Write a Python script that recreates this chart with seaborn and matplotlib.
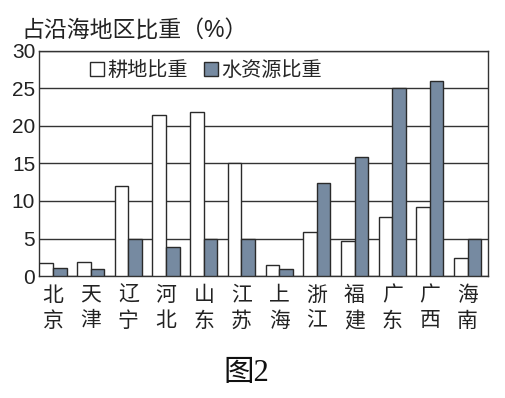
import matplotlib
matplotlib.use('Agg')
import matplotlib.pyplot as plt
import pandas as pd
import seaborn as sns

# provinces (two-line labels), cultivated land share and water resources share (%)
provinces = ['北京', '天津', '辽宁', '河北', '山东', '江苏', '上海', '浙江', '福建', '广东', '广西', '海南']
farmland = [1.7, 1.9, 12.0, 21.5, 21.9, 15.0, 1.5, 5.8, 4.7, 7.8, 9.2, 2.4]
water = [1.1, 1.0, 5.0, 3.9, 5.0, 5.0, 1.0, 12.4, 15.9, 25.0, 26.0, 5.0]
series = ['耕地比重', '水资源比重']
yticks = [0, 5, 10, 15, 20, 25, 30]

sns.set_style('white')
plt.rcParams['font.family'] = ['Liberation Sans', 'Noto Sans CJK SC', 'DejaVu Sans']

df = pd.DataFrame({
    'province': provinces * 2,
    'value': farmland + water,
    'kind': [series[0]] * len(provinces) + [series[1]] * len(provinces),
})

fig = plt.figure(figsize=(5.05, 3.98), dpi=100)
ax = fig.add_axes([0.078, 0.3065, 0.889, 0.5655])

blue = '#6f8aa8'
sns.barplot(data=df, x='province', y='value', hue='kind', order=provinces,
            hue_order=series, palette={series[0]: 'white', series[1]: blue},
            width=0.72, edgecolor='#2a2a2a', linewidth=1.0, ax=ax, zorder=3)

ax.set_ylim(0, 30)
ax.set_xlim(-0.36, 11.55)
ax.set_yticks(yticks)
ax.set_yticklabels([str(t) for t in yticks], fontsize=15, color='#222222')
ax.yaxis.grid(True, color='#333333', linewidth=1.0, zorder=0)
ax.set_axisbelow(True)
ax.tick_params(axis='y', length=0, pad=3)

# category labels stacked vertically
ax.set_xticks(range(len(provinces)))
ax.set_xticklabels([p[0] + '\n' + p[1] for p in provinces], fontsize=15,
                   linespacing=1.4, color='#222222')
ax.tick_params(axis='x', which='major', length=0, pad=7)
ax.set_xticks([k + 0.64 for k in range(len(provinces) - 1)], minor=True)
ax.tick_params(axis='x', which='minor', direction='in', length=5, width=1, color='#333333')

for s in ax.spines.values():
    s.set_visible(True)
    s.set_color('#333333')
    s.set_linewidth(1.0)

ax.set_xlabel('')
ax.set_ylabel('')

handles, labels = ax.get_legend_handles_labels()
ax.get_legend().remove()
fig.legend(handles, labels, loc='center left', bbox_to_anchor=(0.163, 0.822),
           ncol=2, frameon=False, fontsize=14.5, handlelength=0.7, handleheight=0.7,
           handletextpad=0.15, columnspacing=0.8, borderaxespad=0)

fig.text(0.042, 0.922, '占沿海地区比重（%）', fontsize=16.5, va='center', ha='left', color='#222222')
fig.text(0.488, 0.062, '图2', fontsize=22, va='center', ha='center',
         family=['Liberation Serif', 'Noto Sans CJK SC'], color='#111111')

fig.savefig('out.png', dpi=100)
